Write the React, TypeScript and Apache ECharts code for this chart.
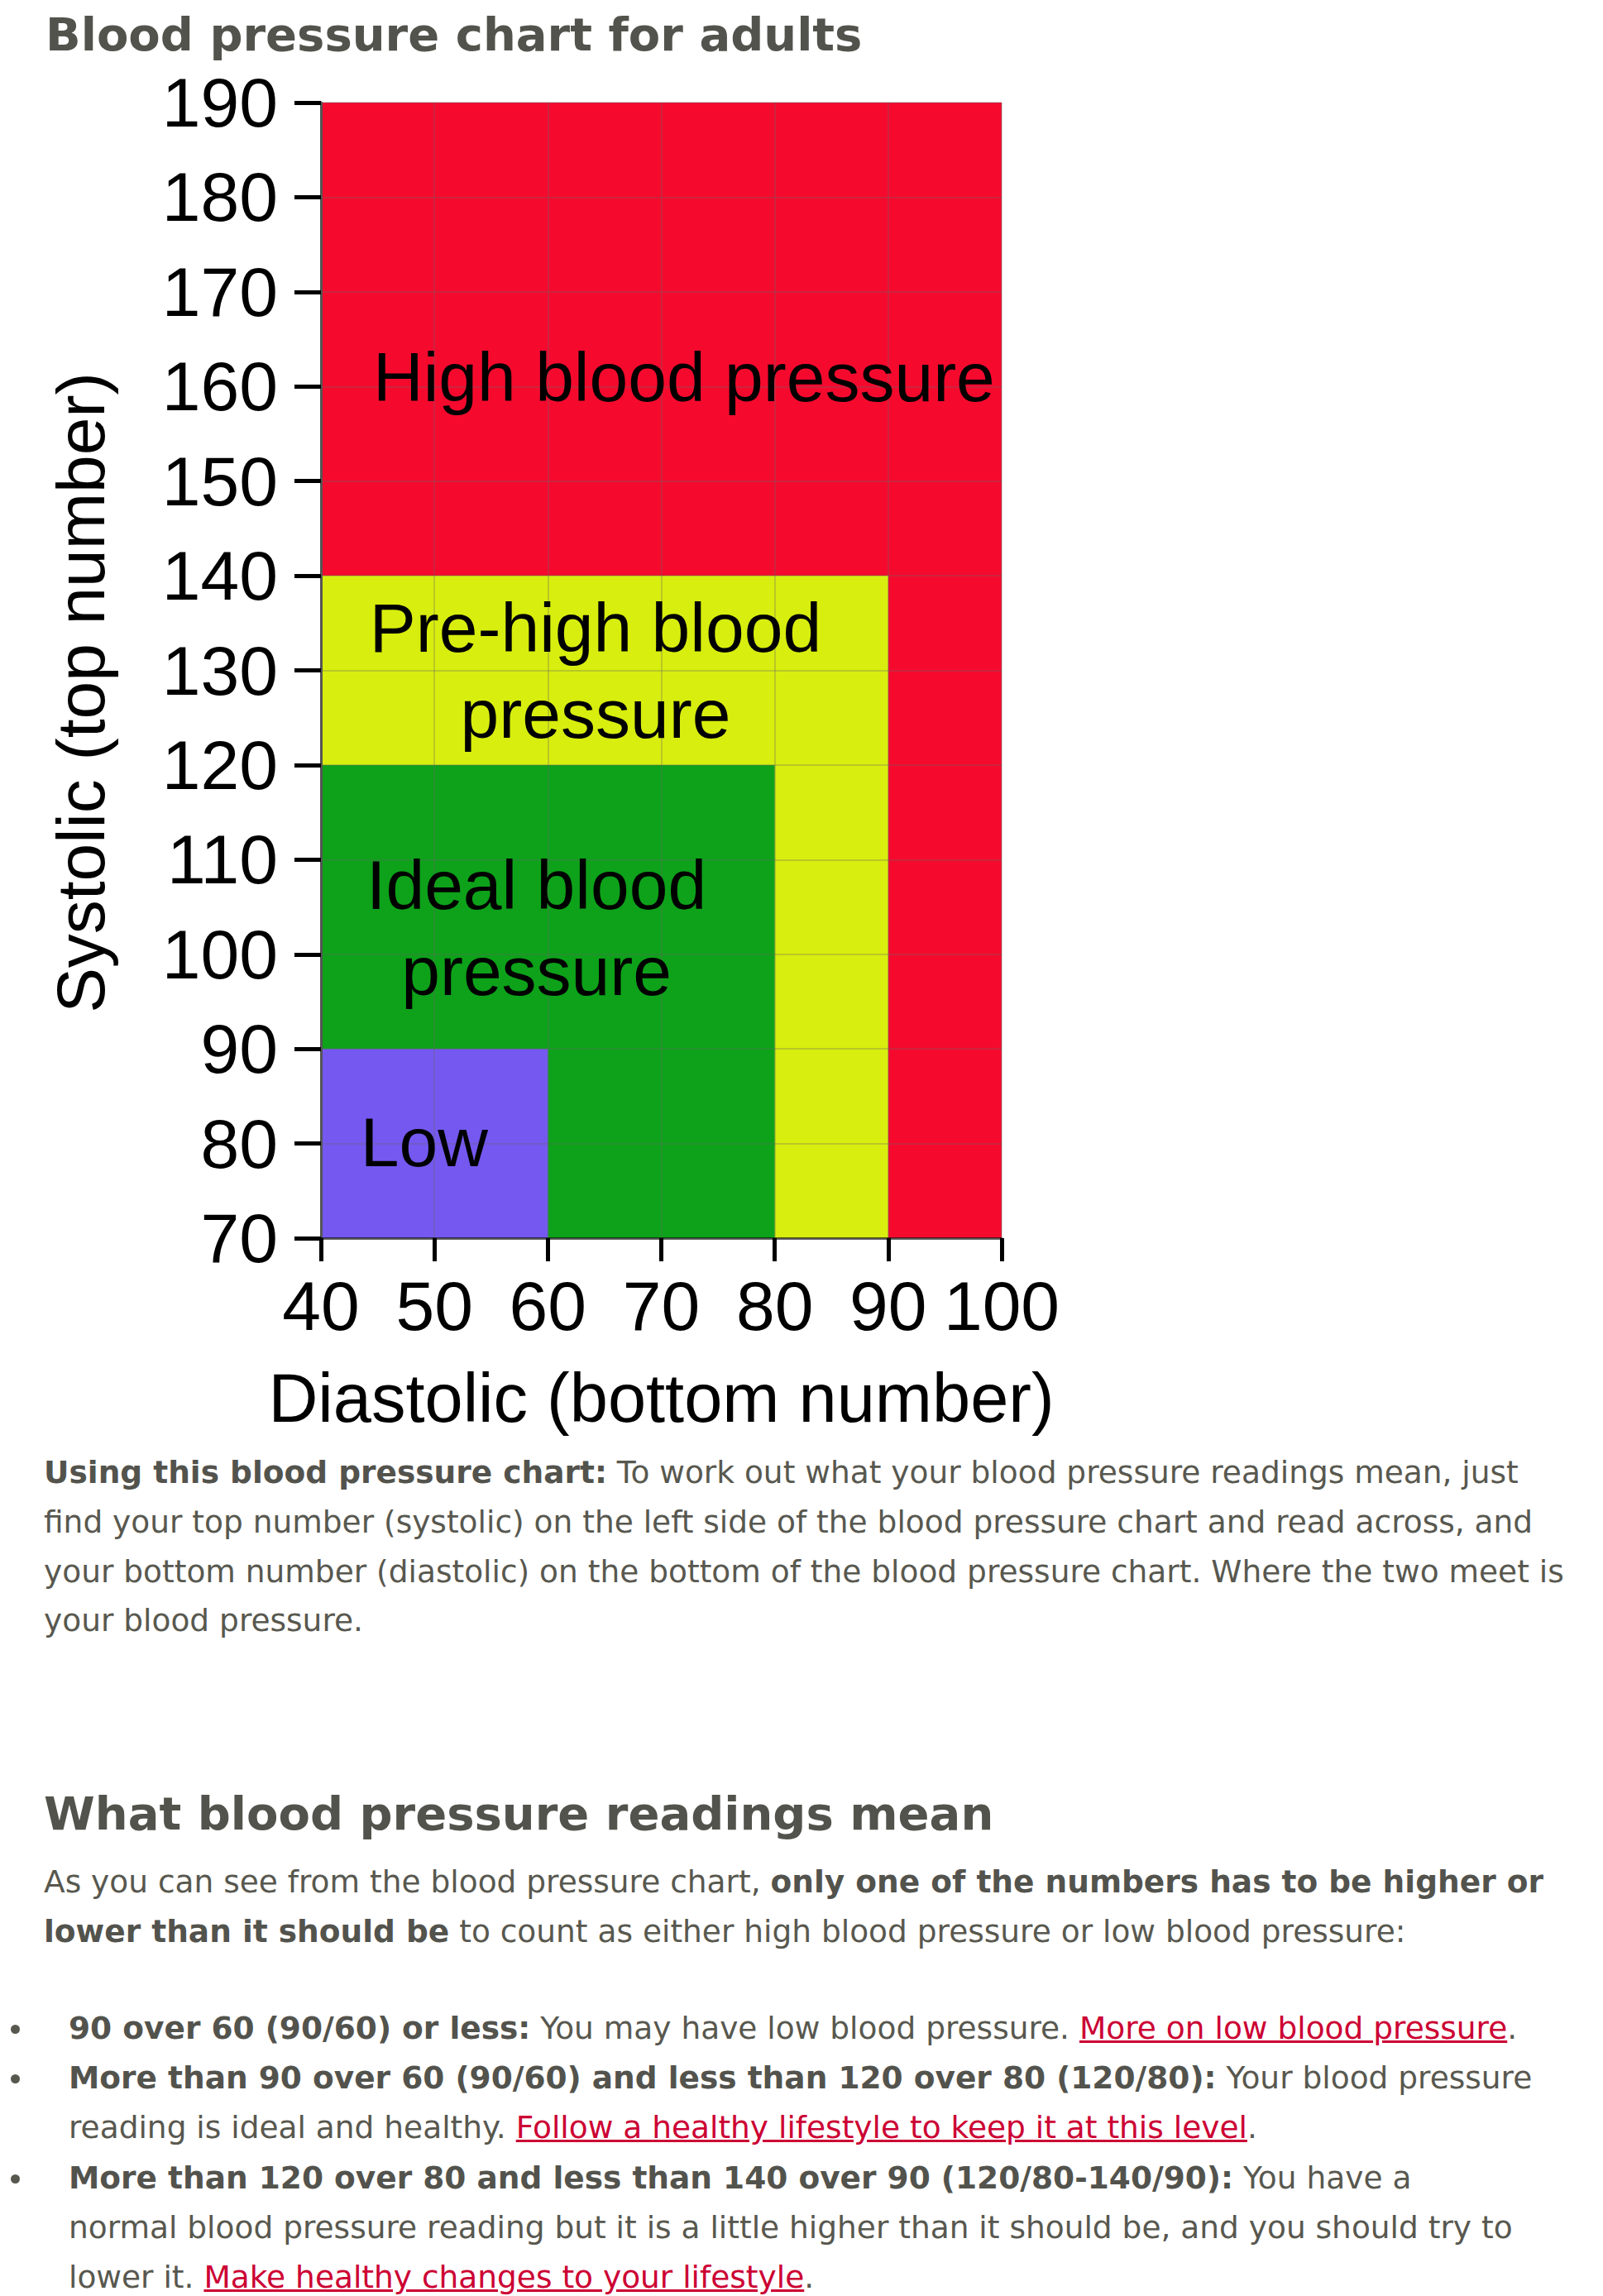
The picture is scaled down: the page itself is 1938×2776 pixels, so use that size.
import React, { useEffect, useRef } from "react";
import * as echarts from "echarts";

// ---- data ----
const zoneNames = ["High blood pressure", "Pre-high blood pressure", "Ideal blood pressure", "Low"];
const zoneLabels = ["High blood pressure", "Pre-high blood\npressure", "Ideal blood\npressure", "Low"];
const diastolicMin = [40, 40, 40, 40];
const diastolicMax = [100, 90, 80, 60];
const systolicMin = [70, 70, 70, 70];
const systolicMax = [190, 140, 120, 90];
const zoneColors = ["#F50A2E", "#D8EE0E", "#0DA21A", "#7558F0"];
const labelDiastolic = [72, 64.2, 59, 49.1];
const labelSystolic = [161, 130, 102.8, 80.1];
const xTicks = [40, 50, 60, 70, 80, 90, 100];
const yTicks = [70, 80, 90, 100, 110, 120, 130, 140, 150, 160, 170, 180, 190];

const chartFont = "'Liberation Sans', Arial, sans-serif";
const pageFont = "'DejaVu Sans', Verdana, sans-serif";
const textColor = "#58584f";
const headColor = "#53534d";
const linkColor = "#cc0033";

function Chart() {
  const ref = useRef<HTMLDivElement>(null);
  useEffect(() => {
    if (!ref.current) return;
    const chart = echarts.init(ref.current, undefined, { renderer: "svg" });
    const zoneData = zoneNames.map((n, i) => ({
      name: n,
      value: [diastolicMin[i], diastolicMax[i], systolicMin[i], systolicMax[i]],
    }));
    const labelData = zoneNames.map((n, i) => ({ name: n, value: [labelDiastolic[i], labelSystolic[i]] }));
    const axisCommon = {
      type: "value" as const,
      interval: 10,
      z: 3,
      axisLine: { show: true },
      axisTick: { show: true, inside: false },
      splitLine: { show: true, lineStyle: { color: "rgba(100,100,100,0.28)", width: 2 } },
    };
    chart.setOption({
      animation: false,
      title: {
        text: "Blood pressure chart for adults",
        left: 50,
        top: 8,
        textStyle: { fontFamily: pageFont, fontWeight: "bold", fontSize: 56, color: headColor },
      },
      grid: { left: 388, top: 124, width: 823, height: 1373, containLabel: false },
      xAxis: {
        ...axisCommon,
        min: xTicks[0],
        max: xTicks[xTicks.length - 1],
        name: "Diastolic (bottom number)",
        nameLocation: "middle",
        nameGap: 152,
        nameTextStyle: { fontFamily: chartFont, fontSize: 83, color: "#000" },
        axisLine: { show: true, lineStyle: { color: "rgba(0,0,0,0.6)", width: 3 } },
        axisTick: { show: true, inside: false, length: 28, lineStyle: { color: "#000", width: 5 } },
        axisLabel: { fontFamily: chartFont, fontSize: 84, color: "#000", margin: 40 },
      },
      yAxis: {
        ...axisCommon,
        min: yTicks[0],
        max: yTicks[yTicks.length - 1],
        name: "Systolic (top number)",
        nameLocation: "middle",
        nameRotate: 90,
        nameGap: 250,
        nameTextStyle: { fontFamily: chartFont, fontSize: 82, color: "#000", padding: [0, 54, 0, 0] },
        axisLine: { show: true, lineStyle: { color: "#555", width: 3 } },
        axisTick: { show: true, inside: false, length: 32, lineStyle: { color: "#000", width: 5 } },
        axisLabel: { fontFamily: chartFont, fontSize: 84, color: "#000", margin: 52 },
      },
      series: [
        {
          type: "custom",
          name: "zones",
          z: 1,
          encode: { x: [0, 1], y: [2, 3] },
          data: zoneData,
          renderItem: (params: any, api: any) => {
            const tl = api.coord([api.value(0), api.value(3)]);
            const br = api.coord([api.value(1), api.value(2)]);
            return {
              type: "rect",
              shape: { x: tl[0], y: tl[1], width: br[0] - tl[0], height: br[1] - tl[1] },
              style: { fill: zoneColors[params.dataIndex] },
            };
          },
        },
        {
          type: "custom",
          name: "labels",
          z: 5,
          encode: { x: 0, y: 1 },
          data: labelData,
          renderItem: (params: any, api: any) => {
            const p = api.coord([api.value(0), api.value(1)]);
            return {
              type: "text",
              x: p[0],
              y: p[1],
              style: {
                text: zoneLabels[params.dataIndex],
                fontFamily: chartFont,
                fontSize: 84,
                fill: "#000",
                align: "center",
                verticalAlign: "middle",
                lineHeight: 104,
              },
            };
          },
        },
      ],
    });
    return () => chart.dispose();
  }, []);
  return <div ref={ref} style={{ position: "absolute", left: 0, top: 0, width: 1938, height: 1740 }} />;
}

const lineStyle = (center: number, left: number): React.CSSProperties => ({
  position: "absolute",
  left,
  top: center - 31,
  height: 60,
  lineHeight: "60px",
  whiteSpace: "nowrap",
  fontFamily: pageFont,
  fontSize: 37.5,
  color: textColor,
});

const B = ({ children }: { children: React.ReactNode }) => (
  <b style={{ color: headColor }}>{children}</b>
);
const A = ({ children }: { children: React.ReactNode }) => (
  <span style={{ color: linkColor, textDecoration: "underline" }}>{children}</span>
);
const Dot = ({ center }: { center: number }) => (
  <div
    style={{
      position: "absolute",
      left: 13,
      top: center - 5,
      width: 11,
      height: 11,
      borderRadius: "50%",
      background: textColor,
    }}
  />
);

export default function App() {
  return (
    <div style={{ position: "absolute", left: 0, top: 0, width: 1938, height: 2776, background: "#fff", overflow: "hidden" }}>
      <Chart />
      <div style={lineStyle(1781, 53)}>
        <B>Using this blood pressure chart:</B> To work out what your blood pressure readings mean, just
      </div>
      <div style={lineStyle(1841, 53)}>
        find your top number (systolic) on the left side of the blood pressure chart and read across, and
      </div>
      <div style={lineStyle(1901, 53)}>
        your bottom number (diastolic) on the bottom of the blood pressure chart. Where the two meet is
      </div>
      <div style={lineStyle(1960, 53)}>your blood pressure.</div>

      <div
        style={{
          position: "absolute",
          left: 53,
          top: 2158,
          height: 70,
          lineHeight: "70px",
          whiteSpace: "nowrap",
          fontFamily: pageFont,
          fontWeight: "bold",
          fontSize: 56,
          color: headColor,
        }}
      >
        What blood pressure readings mean
      </div>
      <div style={lineStyle(2276, 53)}>
        As you can see from the blood pressure chart, <B>only one of the numbers has to be higher or</B>
      </div>
      <div style={lineStyle(2336, 53)}>
        <B>lower than it should be</B> to count as either high blood pressure or low blood pressure:
      </div>

      <Dot center={2453} />
      <div style={lineStyle(2453, 83)}>
        <B>90 over 60 (90/60) or less:</B> You may have low blood pressure. <A>More on low blood pressure</A>.
      </div>
      <Dot center={2513} />
      <div style={lineStyle(2513, 83)}>
        <B>More than 90 over 60 (90/60) and less than 120 over 80 (120/80):</B> Your blood pressure
      </div>
      <div style={lineStyle(2573, 83)}>
        reading is ideal and healthy. <A>Follow a healthy lifestyle to keep it at this level</A>.
      </div>
      <Dot center={2634} />
      <div style={lineStyle(2634, 83)}>
        <B>More than 120 over 80 and less than 140 over 90 (120/80-140/90):</B> You have a
      </div>
      <div style={lineStyle(2694, 83)}>
        normal blood pressure reading but it is a little higher than it should be, and you should try to
      </div>
      <div style={lineStyle(2754, 83)}>
        lower it. <A>Make healthy changes to your lifestyle</A>.
      </div>
    </div>
  );
}
